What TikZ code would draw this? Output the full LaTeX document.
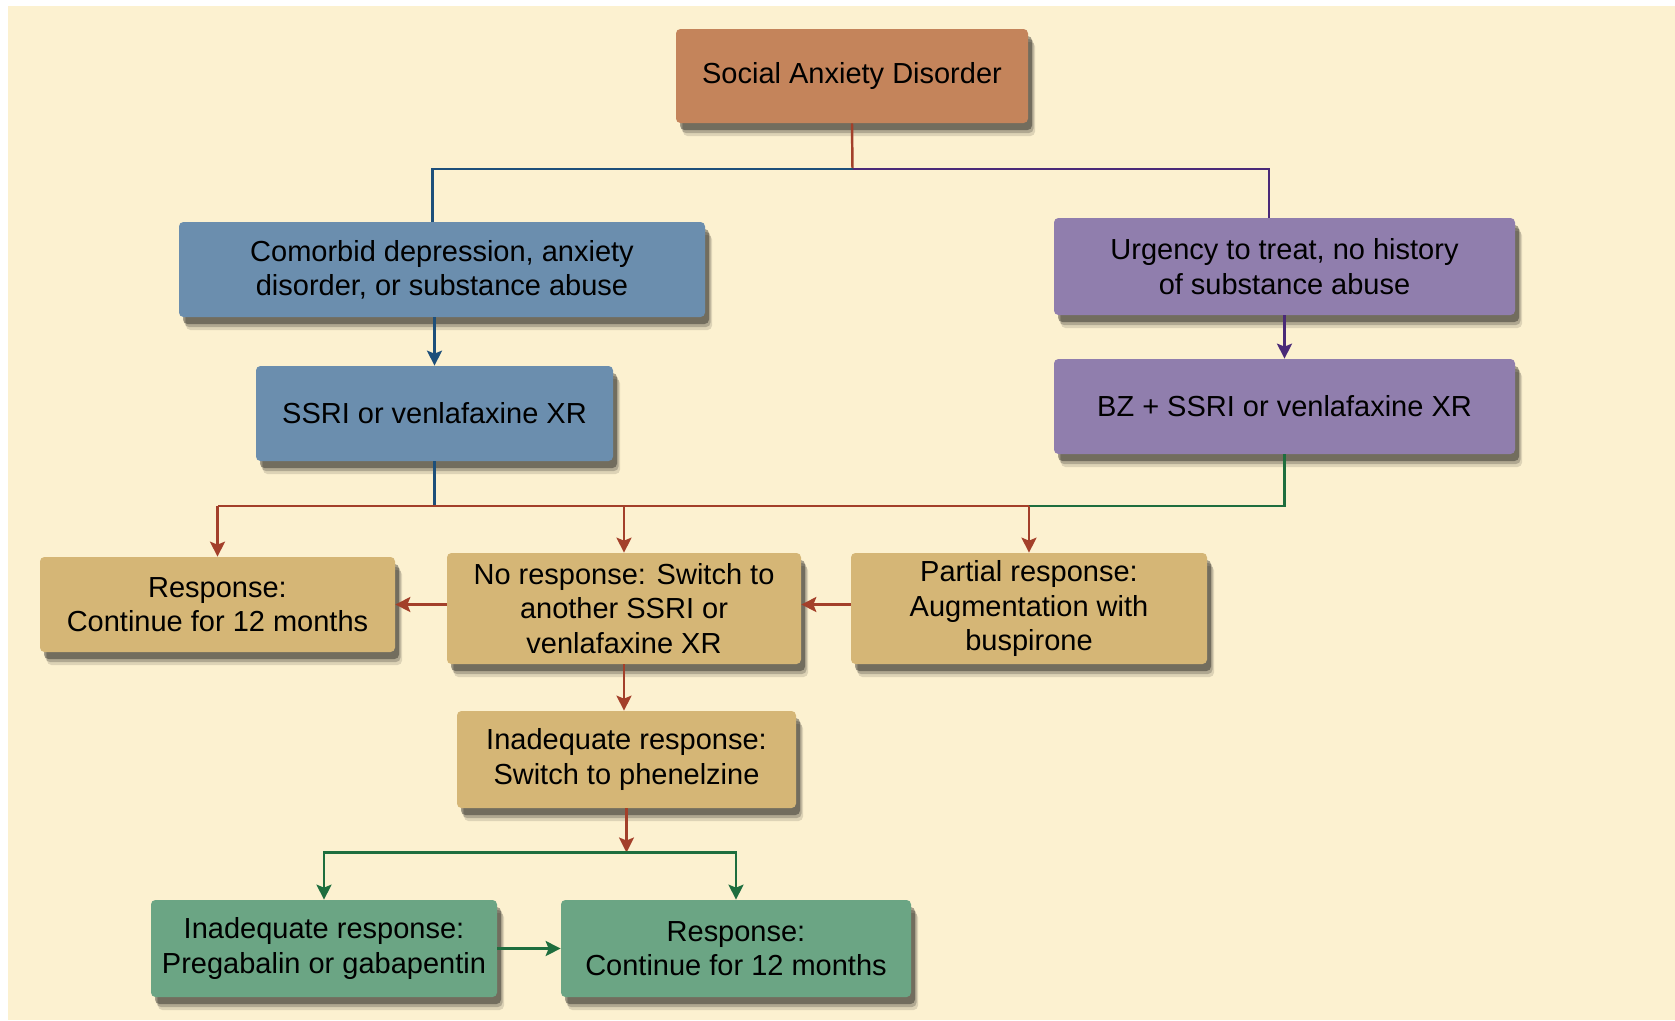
\documentclass[tikz,border=0pt]{standalone}
\usepackage{fontspec}
\setmainfont{Liberation Sans}
\usepackage{tikz}
\usetikzlibrary{arrows.meta,shapes,positioning,shadows}
\usepackage{xcolor}
\definecolor{sabg}{RGB}{252,241,208}
\definecolor{saorange}{RGB}{196,132,91}
\definecolor{sablue}{RGB}{107,142,174}
\definecolor{sapurple}{RGB}{144,126,173}
\definecolor{satan}{RGB}{213,182,118}
\definecolor{sagreen}{RGB}{107,165,132}
\definecolor{sared}{RGB}{163,64,42}
\definecolor{sablueline}{RGB}{29,79,122}
\definecolor{sapurpleline}{RGB}{74,42,120}
\definecolor{sagreenline}{RGB}{30,110,62}
\tikzstyle{box} = [rectangle, rounded corners=2.5pt, inner sep=0pt, align=center,
  font=\fontsize{16.5}{19.5}\selectfont,
  drop shadow={shadow xshift=0.14cm, shadow yshift=-0.26cm, opacity=0.12, fill=black},
  drop shadow={shadow xshift=0.11cm, shadow yshift=-0.2cm, opacity=0.2, fill=black},
  drop shadow={shadow xshift=0.08cm, shadow yshift=-0.14cm, opacity=0.35, fill=black}]
\tikzstyle{line} = [line width=1.4pt]
\tikzstyle{arrow} = [line, -{Stealth[length=3mm,width=3mm,inset=0.6mm]}]

\begin{document}
\begin{tikzpicture}
\useasboundingbox (0,0) rectangle (33.5,-20.4);
\fill[sabg] (0.16,-0.12) rectangle (33.5,-20.4);

% Boxes
\node[box, fill=saorange, minimum width=7.04cm, minimum height=1.88cm] (sad) at (17.04,-1.52) {Social Anxiety Disorder};
\node[box, fill=sablue, minimum width=10.52cm, minimum height=1.9cm] (comorbid) at (8.84,-5.39) {Comorbid depression, anxiety\\disorder, or substance abuse};
\node[box, fill=sapurple, minimum width=9.22cm, minimum height=1.94cm] (urgency) at (25.69,-5.33) {Urgency to treat, no history\\of substance abuse};
\node[box, fill=sablue, minimum width=7.14cm, minimum height=1.9cm] (ssri) at (8.69,-8.27) {SSRI or venlafaxine XR};
\node[box, fill=sapurple, minimum width=9.22cm, minimum height=1.9cm] (bz) at (25.69,-8.13) {BZ + SSRI or venlafaxine XR};
\node[box, fill=satan, minimum width=7.1cm, minimum height=1.9cm] (resp) at (4.35,-12.09) {Response:\\Continue for 12 months};
\node[box, fill=satan, minimum width=7.08cm, minimum height=2.22cm] (noresp) at (12.48,-12.17) {No response: Switch to\\another SSRI or\\venlafaxine XR};
\node[box, fill=satan, minimum width=7.12cm, minimum height=2.22cm] (partial) at (20.58,-12.17) {Partial response:\\Augmentation with\\buspirone};
\node[box, fill=satan, minimum width=6.78cm, minimum height=1.94cm] (phenelzine) at (12.53,-15.19) {Inadequate response:\\Switch to phenelzine};
\node[box, fill=sagreen, minimum width=6.92cm, minimum height=1.94cm] (pregabalin) at (6.48,-18.97) {Inadequate response:\\Pregabalin or gabapentin};
\node[box, fill=sagreen, minimum width=7.0cm, minimum height=1.94cm] (respgreen) at (14.72,-18.97) {Response:\\Continue for 12 months};

% Top split
\coordinate (split) at (17.05,-3.38);
\draw[line, sared] (sad.south) -- (split);
\draw[line, sablueline] (split) -| ([xshift=-0.19cm]comorbid.north);
\draw[line, sapurpleline] (split) -| ([xshift=-0.31cm]urgency.north);
\draw[arrow, sablueline] (comorbid.south -| ssri.north) -- (ssri.north);
\draw[arrow, sapurpleline] (urgency.south) -- (bz.north);

% Second split
\coordinate (row) at (0,-10.12);
\draw[line, sablueline] (ssri.south) -- (ssri.south |- row);
\draw[line, sagreenline] (bz.south) -- (bz.south |- row) -- (partial.north |- row);
\draw[line, sared] (resp.north |- row) -- (partial.north |- row);
\draw[arrow, sared] (resp.north |- row) -- (resp.north);
\draw[arrow, sared] (noresp.north |- row) -- (noresp.north);
\draw[arrow, sared] (partial.north |- row) -- (partial.north);
\draw[arrow, sared] (noresp.west |- resp.east) -- (resp.east);
\draw[arrow, sared] (partial.west |- resp.east) -- (noresp.east |- resp.east);
\draw[arrow, sared] (noresp.south) -- (noresp.south |- phenelzine.north);

% Last split
\coordinate (low) at (12.53,-17.05);
\draw[arrow, sared] (phenelzine.south) -- (low);
\draw[arrow, sagreenline] (low) -| (pregabalin.north);
\draw[arrow, sagreenline] (low) -| (respgreen.north);
\draw[arrow, sagreenline] (pregabalin.east) -- (respgreen.west);
\end{tikzpicture}
\end{document}
